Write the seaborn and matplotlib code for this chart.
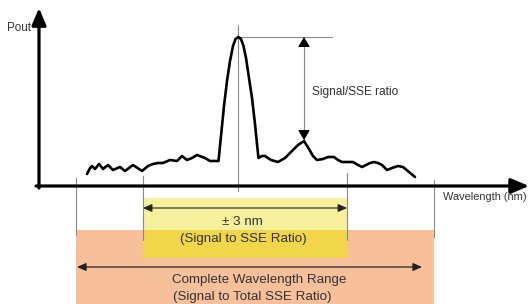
import matplotlib
matplotlib.use("Agg")
import matplotlib.pyplot as plt
import seaborn as sns
import pandas as pd

# spectrum sketch (x = wavelength position, y = Pout above the baseline)
wavelength = [87, 89.5, 92, 95, 99, 103, 108, 113, 120, 125, 133, 142, 148, 153,
              158, 163, 170, 177, 182, 187, 192, 197, 205, 210, 218.5,
              221, 224, 227, 230, 233, 235.5, 238.3, 241, 243.5,
              246, 249, 252, 255, 257, 258.5,
              262, 265, 271, 278, 285, 292, 298, 304, 309, 313, 317, 323, 328,
              334, 338, 342, 348, 353, 358, 362, 366, 370, 374, 378, 382, 387,
              392, 398, 403, 409, 415]
pout = [12, 17, 20, 17, 22, 17, 21, 16, 19, 15, 21, 15, 20, 22,
        23, 23, 26, 25, 30, 26, 28, 31, 28, 25, 25,
        50, 80, 105, 125, 140, 147, 149, 147, 140,
        128, 108, 88, 62, 42, 28,
        30, 30, 26, 24, 28, 35, 41, 45, 37, 30, 26, 27, 29,
        29, 26, 24, 24, 24, 21, 19, 21, 23, 24, 23, 21, 16,
        18, 20, 19, 14, 9]

peak_x = 238.3
peak_y = 149
side_peak_x = 304
side_peak_y = 45
window = (143, 347)       # +/- 3 nm
full_range = (76, 434)    # complete wavelength range

BASE = 186  # baseline row in picture pixels


def py(y):
    return BASE - y


df = pd.DataFrame({"wavelength": wavelength, "pout": pout})

sns.set_theme(style="white")
plt.rcParams["font.family"] = ["Liberation Sans", "DejaVu Sans"]

fig = plt.figure(figsize=(5.30, 3.04), dpi=100)
ax = fig.add_axes([0, 0, 1, 1])
ax.set_xlim(0, 530)
ax.set_ylim(py(304), py(0))
ax.axis("off")

# coloured bands
ax.fill_between([full_range[0], full_range[1]], py(230), py(304),
                color="#f7c09a", lw=0)
ax.fill_between([window[0], window[1]], py(198), py(230),
                color="#f6f09c", lw=0)
ax.fill_between([window[0], window[1]], py(230), py(258),
                color="#f1d64a", lw=0)

# thin guide lines
grey = "#8a8a8a"
ax.plot([full_range[0]] * 2, [py(178), py(235)], color=grey, lw=0.8)
ax.plot([window[0]] * 2, [py(176), py(240)], color=grey, lw=0.8)
ax.plot([window[1]] * 2, [py(173), py(240)], color=grey, lw=0.8)
ax.plot([full_range[1]] * 2, [py(180), py(237)], color=grey, lw=0.8)
ax.plot([peak_x] * 2, [py(25), py(191)], color=grey, lw=0.8)
ax.plot([peak_x, 332], [peak_y, peak_y], color=grey, lw=0.8)

# signal / SSE vertical arrow
ax.plot([side_peak_x] * 2, [peak_y, side_peak_y + 2], color=grey, lw=0.8)
head = dict(arrowstyle="-|>,head_length=0.5,head_width=0.3", color="black",
            lw=0.8, shrinkA=0, shrinkB=0)
ax.annotate("", xy=(side_peak_x, peak_y), xytext=(side_peak_x, peak_y - 8),
            arrowprops=head)
ax.annotate("", xy=(side_peak_x, side_peak_y + 1),
            xytext=(side_peak_x, side_peak_y + 9), arrowprops=head)

# main axes with arrows
ax.annotate("", xy=(39, py(8)), xytext=(39, py(188)),
            arrowprops=dict(arrowstyle="-|>,head_length=0.85,head_width=0.36",
                            color="black", lw=2.3, shrinkA=0, shrinkB=0))
ax.annotate("", xy=(529, 0), xytext=(36, 0),
            arrowprops=dict(arrowstyle="-|>,head_length=0.9,head_width=0.38",
                            color="black", lw=2.3, shrinkA=0, shrinkB=0))

# spectrum
sns.lineplot(data=df, x="wavelength", y="pout", color="black", lw=1.9,
             sort=False, ax=ax)
ax.lines[-1].set_solid_joinstyle("round")
ax.lines[-1].set_solid_capstyle("round")

# horizontal double arrows
ax.annotate("", xy=(window[1], py(208)), xytext=(window[0], py(208)),
            arrowprops=dict(arrowstyle="<|-|>,head_length=0.45,head_width=0.2",
                            color="#222222", lw=0.8, shrinkA=0, shrinkB=0))
ax.annotate("", xy=(422, py(267)), xytext=(77, py(267)),
            arrowprops=dict(arrowstyle="<|-|>,head_length=0.45,head_width=0.2",
                            color="#222222", lw=0.9, shrinkA=0, shrinkB=0))

# labels
txt = "#333333"
ax.text(7, py(28), "Pout", fontsize=8.4, color=txt, va="center", ha="left")
ax.text(443, py(197), "Wavelength (nm)", fontsize=7.9, color=txt,
        va="center", ha="left")
ax.text(312, py(92), "Signal/SSE ratio", fontsize=8.6, color=txt,
        va="center", ha="left")
ax.text(242, py(222), "± 3 nm", fontsize=9.6, color=txt, va="center",
        ha="center")
ax.text(243, py(239), "(Signal to SSE Ratio)", fontsize=9.6, color=txt,
        va="center", ha="center")
ax.text(259.5, py(280), "Complete Wavelength Range", fontsize=9.6, color=txt,
        va="center", ha="center")
ax.text(252, py(297), "(Signal to Total SSE Ratio)", fontsize=9.6, color=txt,
        va="center", ha="center")

fig.savefig("out.png", dpi=100)
